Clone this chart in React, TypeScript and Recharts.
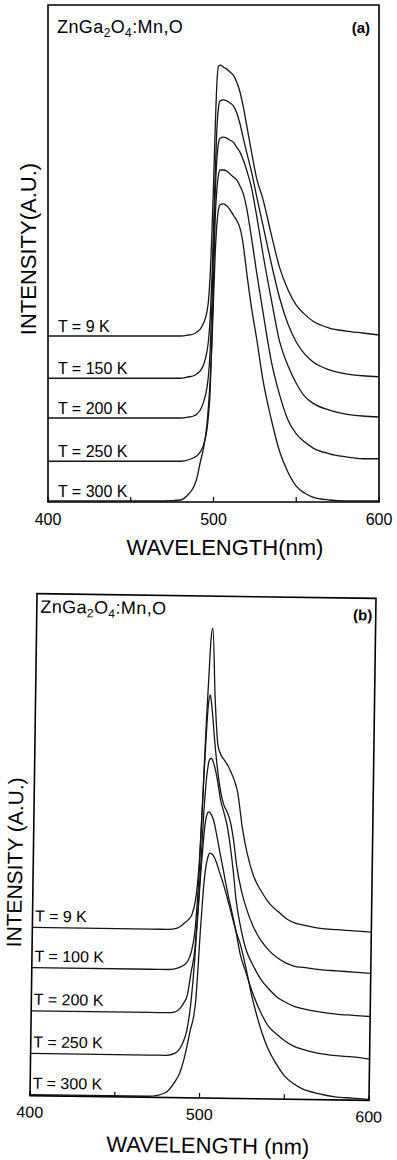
import { LineChart, Line, XAxis, YAxis, ReferenceArea, ReferenceDot } from "recharts";

const FONT = '"Liberation Sans", Arial, Helvetica, sans-serif';

// wavelength grid (nm), shared by every spectrum
const WL = [
  400, 470, 480, 485, 488, 490, 492, 494, 496, 497, 498, 499, 500, 501, 502, 503, 504, 506, 508, 510,
  512, 514, 516, 518, 520, 523, 526, 530, 535, 540, 545, 550, 555, 560, 570, 580, 590, 600,
];
const TICKS = [400, 450, 500, 550, 600];
const TICK_LABELS = [400, 500, 600];

// panel (a) – intensity, offset per temperature (a.u., 0-100 full frame)
const A_TEMPS = ["T = 9 K", "T = 150 K", "T = 200 K", "T = 250 K", "T = 300 K"];
const A_9K = [
  33.4, 33.4, 33.4, 33.6, 33.8, 34.2, 34.8, 36.0, 38.2, 40.6, 45.7, 53.7, 63.8, 74.8, 83.9, 87.7, 87.9, 87.5, 87.1, 86.5,
  85.9, 84.5, 82.5, 79.5, 75.9, 70.4, 65.2, 60.8, 53.7, 47.1, 42.7, 39.6, 37.8, 36.4, 35.0, 34.4, 34.0, 33.6,
];
const A_150K = [
  24.9, 24.9, 24.9, 25.2, 25.4, 25.8, 26.4, 27.6, 30.2, 32.6, 37.0, 44.7, 54.7, 65.8, 74.8, 79.3, 80.7, 80.9, 80.7, 80.3,
  79.7, 78.3, 76.1, 73.2, 70.4, 66.4, 61.6, 55.5, 47.9, 41.0, 35.8, 32.2, 29.8, 28.2, 26.6, 25.8, 25.4, 25.2,
];
const A_200K = [
  16.9, 16.9, 16.9, 17.1, 17.3, 17.7, 18.5, 20.1, 22.9, 25.6, 30.6, 39.6, 50.7, 61.8, 68.8, 72.2, 73.2, 73.4, 73.2, 72.8,
  72.4, 71.4, 70.4, 68.8, 66.8, 63.2, 57.7, 49.7, 40.6, 32.2, 27.4, 23.9, 21.3, 19.9, 18.5, 17.7, 17.3, 17.1,
];
const A_250K = [
  8.2, 8.2, 8.2, 8.5, 8.9, 9.3, 10.1, 11.5, 14.5, 17.5, 22.5, 32.6, 44.7, 56.7, 62.8, 65.8, 66.8, 66.8, 66.6, 66.0,
  65.4, 64.8, 63.6, 62.0, 59.2, 53.1, 46.3, 38.0, 28.2, 21.5, 16.5, 13.7, 12.1, 10.9, 9.7, 9.1, 8.7, 8.7,
];
const A_300K = [
  0.2, 0.2, 0.4, 1.6, 3.0, 4.8, 8.0, 10.9, 15.5, 19.5, 24.5, 31.6, 40.6, 49.7, 55.7, 58.8, 59.8, 60.0, 59.6, 58.8,
  57.7, 56.7, 55.1, 51.7, 46.3, 39.0, 33.0, 24.3, 16.5, 10.1, 6.0, 3.2, 1.8, 1.0, 0.4, 0.2, 0.2, 0.2,
];

// panel (b)
const B_TEMPS = ["T = 9 K", "T = 100 K", "T = 200 K", "T = 250 K", "T = 300 K"];
const B_9K = [
  33.5, 33.5, 33.5, 33.7, 34.3, 34.9, 35.5, 36.5, 39.4, 42.4, 47.4, 55.4, 65.3, 75.3, 83.3, 91.2, 93.6, 79.3, 70.3, 68.3,
  67.3, 66.3, 64.9, 63.3, 61.0, 54.0, 49.0, 44.4, 41.2, 38.8, 37.3, 35.9, 35.1, 34.7, 34.1, 33.9, 33.7, 33.5,
];
const B_100K = [
  25.5, 25.5, 25.5, 25.7, 26.1, 26.5, 27.3, 29.1, 33.5, 38.4, 45.4, 55.4, 64.3, 72.3, 78.3, 80.3, 78.3, 71.3, 65.3, 61.0,
  58.4, 57.0, 55.0, 51.4, 46.4, 41.4, 38.0, 34.5, 31.5, 29.5, 28.1, 27.1, 26.5, 26.3, 25.9, 25.7, 25.5, 25.3,
];
const B_200K = [
  16.9, 16.9, 16.9, 17.1, 17.9, 18.9, 20.5, 25.0, 29.5, 34.5, 40.4, 47.4, 55.4, 61.4, 65.3, 67.3, 67.7, 66.3, 63.3, 59.4,
  57.0, 54.4, 50.4, 45.4, 39.4, 33.9, 29.9, 26.9, 23.9, 21.9, 20.3, 19.3, 18.5, 18.1, 17.5, 17.1, 16.9, 16.7,
];
const B_250K = [
  8.4, 8.4, 8.4, 8.8, 9.8, 11.2, 13.5, 18.5, 27.5, 33.5, 39.4, 45.4, 50.4, 54.4, 56.4, 57.0, 56.8, 55.4, 52.4, 49.0,
  45.8, 42.4, 39.4, 36.5, 33.5, 28.5, 25.5, 21.5, 17.5, 14.5, 12.9, 11.6, 10.6, 10.0, 9.2, 8.8, 8.6, 8.2,
];
const B_300K = [
  0.2, 0.2, 1.0, 3.0, 4.8, 7.0, 10.0, 13.5, 16.5, 19.5, 25.5, 32.5, 38.4, 43.4, 46.4, 48.0, 48.8, 48.4, 47.0, 45.0,
  43.0, 40.8, 38.4, 35.9, 33.5, 30.5, 26.5, 20.5, 14.5, 10.0, 7.0, 4.6, 3.2, 2.2, 1.2, 0.6, 0.4, 0.2,
];

function WaveTick(props: any) {
  const { x, y, payload, dy } = props;
  const v = payload.value;
  return (
    <g>
      <line x1={x} y1={y} x2={x} y2={y - 5} stroke="#000" strokeWidth={1.2} />
      {TICK_LABELS.includes(v) && (
        <text x={x} y={y + dy} textAnchor="middle" fontSize={16} fontFamily={FONT} fill="#000">
          {v}
        </text>
      )}
    </g>
  );
}

function Panel({ series, temps, width, height, margin, axisHeight, labelWl, labelLift, tickDy }: any) {
  const rows = WL.map((wl, i) => {
    const r: any = { wl };
    series.forEach((s: number[], k: number) => (r["s" + k] = s[i]));
    return r;
  });
  return (
    <LineChart width={width} height={height} data={rows} margin={margin}>
      <XAxis
        type="number"
        dataKey="wl"
        domain={[400, 600]}
        ticks={TICKS}
        interval={0}
        height={axisHeight}
        tickSize={0}
        tickMargin={0}
        tickLine={false}
        axisLine={false}
        tick={(p: any) => <WaveTick {...p} dy={tickDy} />}
      />
      <YAxis type="number" domain={[0, 100]} hide />
      <ReferenceArea x1={400} x2={600} y1={0} y2={100} fill="none" stroke="#000" strokeWidth={1.6} />
      {series.map((_: number[], k: number) => (
        <Line
          key={k}
          dataKey={"s" + k}
          type="monotone"
          stroke="#151515"
          strokeWidth={1.3}
          dot={false}
          isAnimationActive={false}
        />
      ))}
      {temps.map((t: string, k: number) => (
        <ReferenceDot
          key={t}
          x={labelWl}
          y={series[k][0]}
          r={0}
          fill="none"
          stroke="none"
          label={{
            content: (p: any) => (
              <text
                x={p.viewBox.x}
                y={p.viewBox.y - labelLift}
                fontSize={16}
                fontFamily={FONT}
                fill="#000"
              >
                {t}
              </text>
            ),
          }}
        />
      ))}
    </LineChart>
  );
}

function Title({ x, y }: { x: number; y: number }) {
  return (
    <text x={x} y={y} fontSize={18} letterSpacing={0.4} fontFamily={FONT} fill="#000">
      ZnGa
      <tspan dy={4} fontSize={12}>2</tspan>
      <tspan dy={-4}>O</tspan>
      <tspan dy={4} fontSize={12}>4</tspan>
      <tspan dy={-4}>:Mn,O</tspan>
    </text>
  );
}

export default function App() {
  return (
    <div
      style={{
        position: "absolute",
        left: 0,
        top: 0,
        width: 397,
        height: 1160,
        background: "#fff",
        overflow: "hidden",
      }}
    >
      <div style={{ position: "absolute", left: 0, top: 0 }}>
        <Panel
          series={[A_9K, A_150K, A_200K, A_250K, A_300K]}
          temps={A_TEMPS}
          width={397}
          height={560}
          margin={{ top: 5, right: 18, bottom: 0, left: 48 }}
          axisHeight={58}
          labelWl={406}
          labelLift={4}
          tickDy={23}
        />
        <svg
          width={397}
          height={590}
          style={{ position: "absolute", left: 0, top: 0, pointerEvents: "none" }}
        >
          <Title x={57} y={33} />
          <text x={370} y={33} textAnchor="end" fontSize={15} fontWeight="bold" fontFamily={FONT}>
            (a)
          </text>
          <text
            transform="translate(28,249) rotate(-90)"
            textAnchor="middle"
            dominantBaseline="central"
            fontSize={22}
            fontFamily={FONT}
          >
            INTENSITY(A.U.)
          </text>
          <text x={225} y={555} textAnchor="middle" fontSize={22} fontFamily={FONT}>
            WAVELENGTH(nm)
          </text>
        </svg>
      </div>

      <div
        style={{
          position: "absolute",
          left: 0,
          top: 590,
          width: 397,
          height: 570,
          transform: "rotate(0.8deg)",
          transformOrigin: "203px 257px",
        }}
      >
        <Panel
          series={[B_9K, B_100K, B_200K, B_250K, B_300K]}
          temps={B_TEMPS}
          width={397}
          height={570}
          margin={{ top: 6, right: 24.5, bottom: 0, left: 33.5 }}
          axisHeight={62}
          labelWl={401.5}
          labelLift={6}
          tickDy={22}
        />
        <svg
          width={397}
          height={570}
          style={{ position: "absolute", left: 0, top: 0, pointerEvents: "none", overflow: "visible" }}
        >
          <Title x={37} y={25} />
          <text x={369} y={28} textAnchor="end" fontSize={15} fontWeight="bold" fontFamily={FONT}>
            (b)
          </text>
          <text
            transform="translate(15,275) rotate(-90)"
            textAnchor="middle"
            dominantBaseline="central"
            fontSize={21}
            fontFamily={FONT}
          >
            INTENSITY (A.U.)
          </text>
          <text x={212} y={563} textAnchor="middle" fontSize={22} fontFamily={FONT}>
            WAVELENGTH (nm)
          </text>
        </svg>
      </div>
    </div>
  );
}
